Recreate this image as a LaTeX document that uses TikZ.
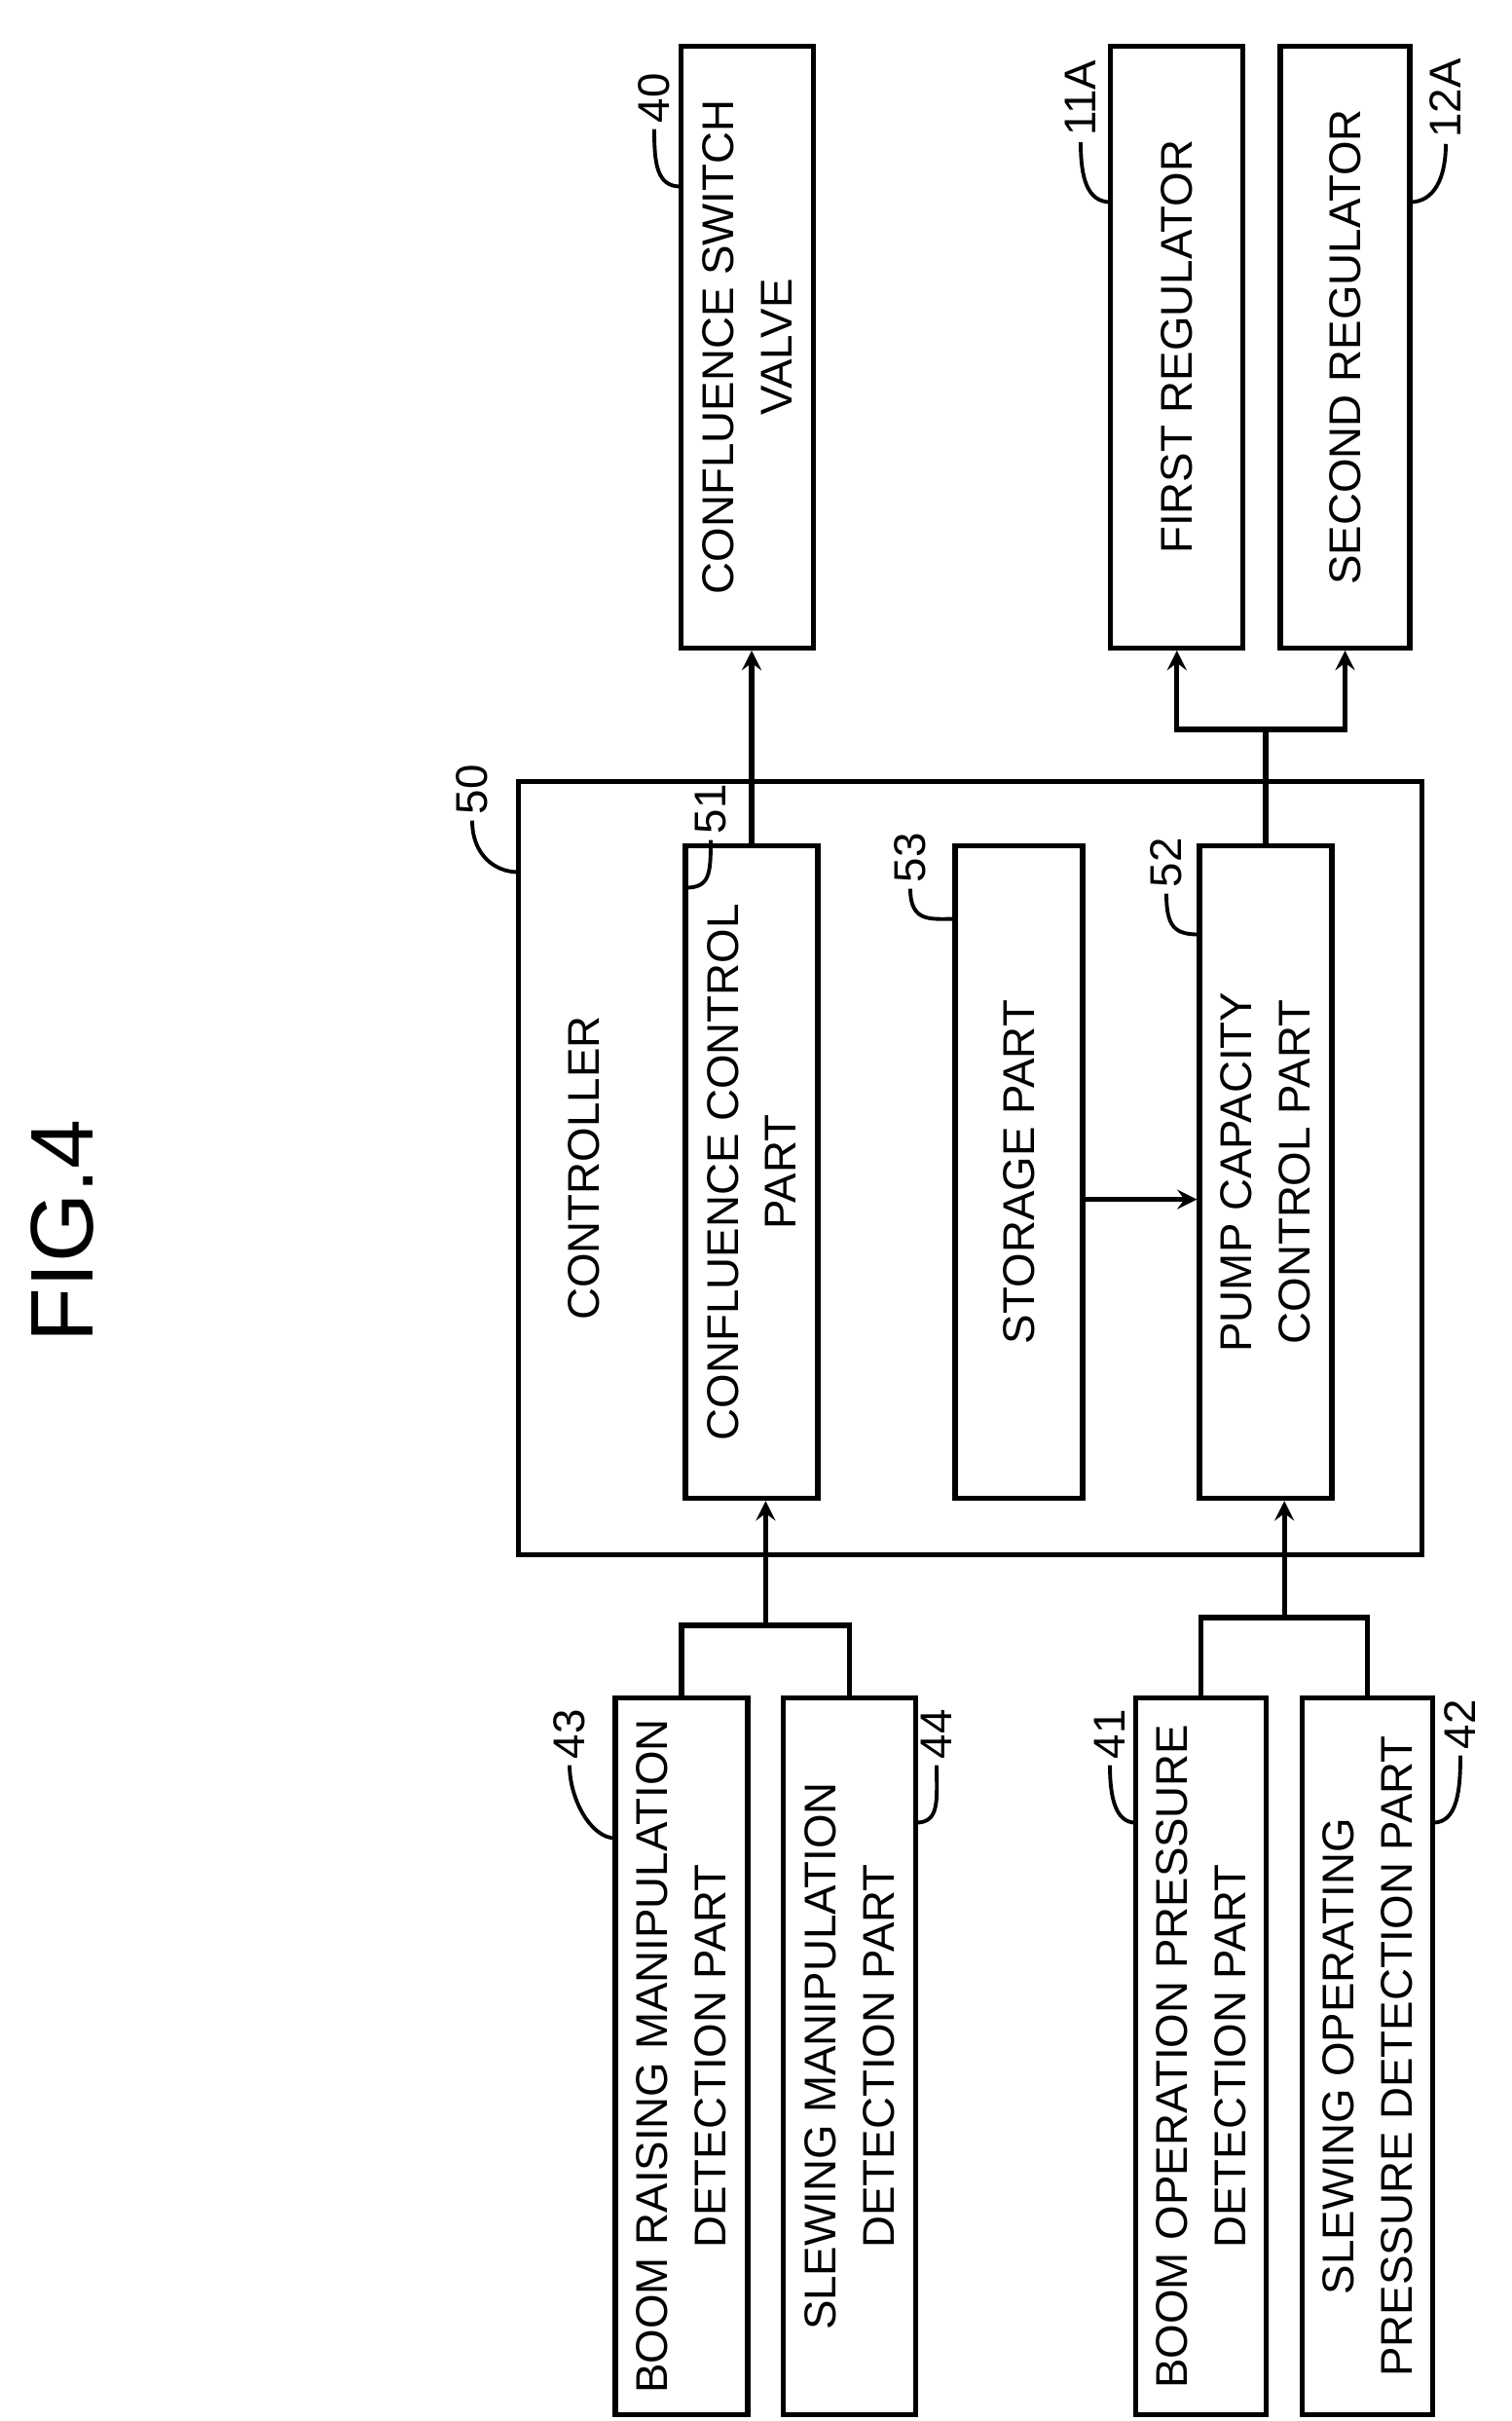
\documentclass[tikz,border=0pt]{standalone}
\usepackage{fontspec}
\setmainfont{Liberation Sans}
\usetikzlibrary{calc}
\begin{document}
\begin{tikzpicture}[line width=1.5pt,
 box/.style={draw,rotate=90,align=center,inner sep=2pt,font=\fontsize{13}{17}\selectfont},
 lab/.style={rotate=90,font=\fontsize{13}{15}\selectfont,inner sep=1pt},
 ar/.style={->,>=stealth},
 ld/.style={line width=1.1pt}]
\useasboundingbox (0,0) rectangle (15.52,24.86);
\node[rotate=90,font=\fontsize{26}{30}\selectfont] (fig) at (0.64,12.22) {FIG.4};
% top boxes
\node[box,minimum width=6.18cm,minimum height=1.36cm] (n40) at (7.672,21.296) {CONFLUENCE SWITCH\\VALVE};
\node[box,minimum width=6.18cm,minimum height=1.36cm] (n11A) at (12.088,21.296) {FIRST REGULATOR};
\node[box,minimum width=6.18cm,minimum height=1.33cm] (n12A) at (13.816,21.296) {SECOND REGULATOR};
% controller
\node[draw,minimum width=9.28cm,minimum height=7.94cm] (n50) at (9.968,12.864) {};
\node[rotate=90,font=\fontsize{13}{17}\selectfont] (ctl) at (6.0,12.864) {CONTROLLER};
\node[box,minimum width=6.70cm,minimum height=1.36cm] (n51) at (7.72,12.824) {CONFLUENCE CONTROL\\PART};
\node[box,minimum width=6.70cm,minimum height=1.31cm] (n53) at (10.464,12.824) {STORAGE PART};
\node[box,minimum width=6.70cm,minimum height=1.36cm] (n52) at (13.0,12.824) {PUMP CAPACITY\\CONTROL PART};
% bottom boxes
\node[box,minimum width=7.36cm,minimum height=1.36cm] (n43) at (7.0,3.744) {BOOM RAISING MANIPULATION\\DETECTION PART};
\node[box,minimum width=7.36cm,minimum height=1.36cm] (n44) at (8.728,3.744) {SLEWING MANIPULATION\\DETECTION PART};
\node[box,minimum width=7.36cm,minimum height=1.34cm] (n41) at (12.336,3.744) {BOOM OPERATION PRESSURE\\DETECTION PART};
\node[box,minimum width=7.36cm,minimum height=1.34cm] (n42) at (14.048,3.744) {SLEWING OPERATING\\PRESSURE DETECTION PART};
% connectors
\draw (n43.east) -- ++(0,0.72) coordinate (a1) -| (n44.east);
\coordinate (j1) at ($(a1)!0.5!(n44.east |- a1)$);
\draw[ar] (j1) -- (j1 |- n51.west);
\draw (n41.east) -- ++(0,0.80) coordinate (a2) -| (n42.east);
\coordinate (j2) at ($(a2)!0.5!(n42.east |- a2)$);
\draw[ar] (j2) -- (j2 |- n52.west);
\draw[ar] (n51.east) -- (n51.east |- n40.west);
\draw (n52.east) -- ++(0,1.17) coordinate (j3);
\draw[ar] (j3) -| (n11A.west);
\draw[ar] (j3) -| (n12A.west);
\draw[ar] ($(n53.south)+(0,-0.28)$) -- ($(n52.north)+(0,-0.28)$);
% reference labels
\node[lab] (l40) at (6.72,23.85) {40};
\coordinate (c40) at (6.992,22.944);
\draw[ld] (l40.west) .. controls +(0,-0.35) and +(-0.25,0) .. (c40);
\node[lab] (l11A) at (11.10,23.85) {11A};
\coordinate (c11A) at (11.408,22.784);
\draw[ld] (l11A.west) .. controls +(0,-0.35) and +(-0.25,0) .. (c11A);
\node[lab] (l12A) at (14.85,23.85) {12A};
\coordinate (c12A) at (14.48,22.784);
\draw[ld] (l12A.west) .. controls +(0,-0.35) and +(0.25,0) .. (c12A);
\node[lab] (l50) at (4.85,16.75) {50};
\coordinate (c50) at (5.328,15.904);
\draw[ld] (l50.west) .. controls +(0,-0.35) and +(-0.25,0) .. (c50);
\node[lab] (l51) at (7.30,16.55) {51};
\coordinate (c51) at (7.04,15.744);
\draw[ld] (l51.west) .. controls +(0,-0.35) and +(0.25,0) .. (c51);
\node[lab] (l53) at (9.35,16.05) {53};
\coordinate (c53) at (9.808,15.424);
\draw[ld] (l53.west) .. controls +(0,-0.35) and +(-0.25,0) .. (c53);
\node[lab] (l52) at (11.98,16.0) {52};
\coordinate (c52) at (12.32,15.264);
\draw[ld] (l52.west) .. controls +(0,-0.35) and +(-0.25,0) .. (c52);
\node[lab] (l43) at (5.85,7.05) {43};
\coordinate (c43) at (6.32,5.984);
\draw[ld] (l43.west) .. controls +(0,-0.35) and +(-0.25,0) .. (c43);
\node[lab] (l44) at (9.62,7.05) {44};
\coordinate (c44) at (9.408,6.144);
\draw[ld] (l44.west) .. controls +(0,-0.35) and +(0.25,0) .. (c44);
\node[lab] (l41) at (11.40,7.05) {41};
\coordinate (c41) at (11.664,6.144);
\draw[ld] (l41.west) .. controls +(0,-0.35) and +(-0.2,0) .. (c41);
\node[lab] (l42) at (15.0,7.15) {42};
\coordinate (c42) at (14.72,6.144);
\draw[ld] (l42.west) .. controls +(0,-0.35) and +(0.25,0) .. (c42);
\end{tikzpicture}
\end{document}
